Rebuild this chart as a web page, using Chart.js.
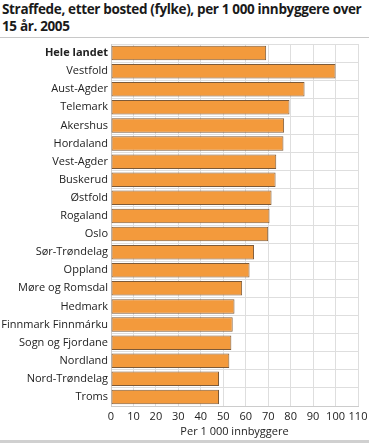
<!DOCTYPE html>
<html>
<head>
<meta charset="utf-8">
<script src="https://cdn.jsdelivr.net/npm/chart.js@4"></script>
<style>
  body { margin: 0; width: 369px; height: 443px; background: #fff; position: relative; overflow: hidden; font-family: "Open Sans", sans-serif; }
  #title { position: absolute; left: 2px; top: 1px; font-size: 13.5px; font-weight: bold; line-height: 17px; color: #1a1a1a; white-space: nowrap; letter-spacing: -0.35px; }
  #topLine { position: absolute; left: 0; top: 37px; width: 369px; height: 1px; background: #c8c8c8; }
  #wrap { position: absolute; left: 0; top: 40px; width: 369px; height: 398px; }
  #bottomLine { position: absolute; left: 0; top: 440px; width: 369px; height: 3px; background: #d0d0d0; }
</style>
</head>
<body>
<div id="title">Straffede, etter bosted (fylke), per 1 000 innbyggere over<br>15 år. 2005</div>
<div id="topLine"></div>
<div id="wrap"><canvas id="myChart"></canvas></div>
<div id="bottomLine"></div>
<script>
const regions = [
  "Hele landet", "Vestfold", "Aust-Agder", "Telemark", "Akershus", "Hordaland",
  "Vest-Agder", "Buskerud", "Østfold", "Rogaland", "Oslo", "Sør-Trøndelag",
  "Oppland", "Møre og Romsdal", "Hedmark", "Finnmark Finnmárku",
  "Sogn og Fjordane", "Nordland", "Nord-Trøndelag", "Troms"
];
const perThousand = [
  69.1, 100.0, 86.2, 79.5, 77.1, 76.8,
  73.6, 73.3, 71.5, 70.6, 70.0, 63.7,
  61.7, 58.4, 55.0, 54.2,
  53.6, 52.7, 48.1, 48.1
];
const xTicksMax = 110;
const xStep = 10;
const xTitle = "Per 1 000 innbyggere";

const fontFamily = "'Open Sans', sans-serif";

new Chart("myChart", {
  type: "bar",
  data: {
    labels: regions,
    datasets: [{
      data: perThousand,
      backgroundColor: "#f39a3c",
      borderColor: "#7d5a38",
      borderWidth: 1,
      borderSkipped: false,
      barPercentage: 0.8,
      categoryPercentage: 1
    }]
  },
  options: {
    indexAxis: "y",
    responsive: true,
    maintainAspectRatio: false,
    animation: false,
    layout: { padding: { top: 4, right: 11, left: 0, bottom: 0 } },
    plugins: {
      legend: { display: false },
      tooltip: { enabled: false }
    },
    scales: {
      x: {
        min: 0,
        max: xTicksMax,
        ticks: {
          stepSize: xStep,
          autoSkip: false,
          minRotation: 0,
          maxRotation: 0,
          color: "#222",
          font: { family: fontFamily, size: 11 },
          padding: 4
        },
        grid: { color: "#dedede", drawTicks: false },
        border: { color: "#cccccc" },
        title: {
          display: true,
          text: xTitle,
          color: "#222",
          font: { family: fontFamily, size: 11 },
          padding: { top: 2, bottom: 0 }
        },
        afterFit: (scale) => {
          scale.height = 32;
          scale.paddingLeft = 0;
          scale.paddingRight = 0;
        }
      },
      y: {
        ticks: {
          color: "#222",
          padding: 3,
          font: (ctx) => ({ family: fontFamily, size: 11, weight: ctx.index === 0 ? "bold" : "normal" })
        },
        grid: { color: "#dedede", drawTicks: false },
        border: { color: "#cccccc" },
        afterFit: (scale) => {
          scale.width = 111;
          scale.paddingTop = 0;
          scale.paddingBottom = 0;
        }
      }
    }
  }
});
</script>
</body>
</html>
